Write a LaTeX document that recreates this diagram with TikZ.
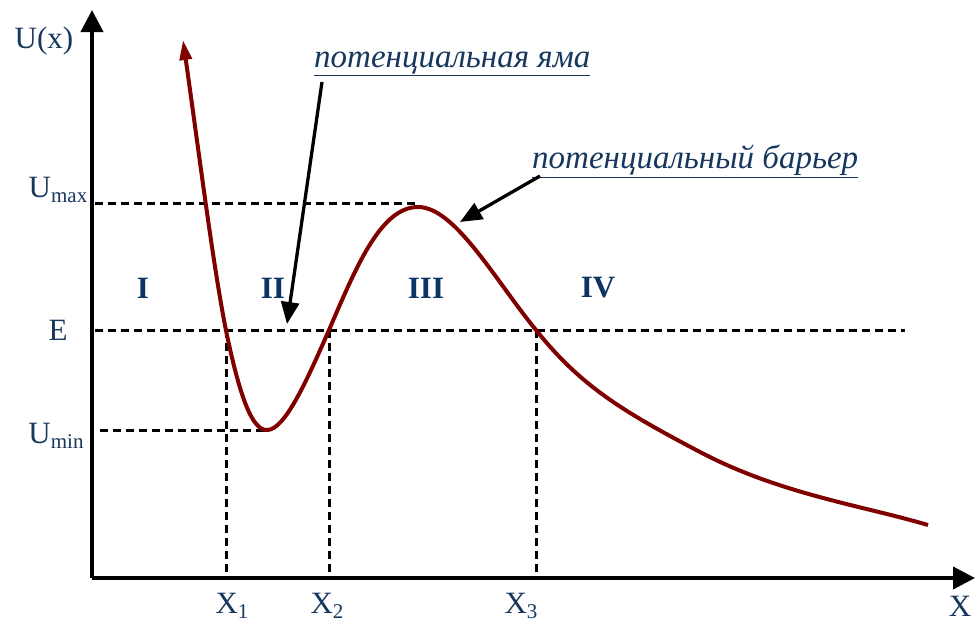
\documentclass[tikz,border=0pt]{standalone}
\usepackage{fontspec}
\setmainfont{Liberation Serif}
\usetikzlibrary{arrows.meta}
\definecolor{txtblue}{RGB}{23,55,94}
\definecolor{regblue}{RGB}{12,52,100}
\definecolor{curvered}{RGB}{128,0,0}
\tikzset{
  axis/.style={line width=4pt,-{Triangle[length=22pt,width=22pt]}},
  guide/.style={line width=3pt,dash pattern=on 8pt off 5pt},
  lbl/.style={text=txtblue,font=\fontsize{31}{33}\selectfont,inner sep=0pt},
  reg/.style={text=regblue,font=\fontsize{31}{33}\selectfont\bfseries,inner sep=0pt},
  note/.style={text=txtblue,font=\fontsize{33}{35}\selectfont\itshape,inner sep=1pt},
  pointer/.style={line width=3.3pt,-{Triangle[length=22pt,width=18pt]}},
}
\begin{document}
\begin{tikzpicture}[x=1pt,y=-1pt]
\useasboundingbox (0,0) rectangle (975,627);
% axes
\coordinate (O) at (92,578);
\coordinate (ytop) at (92,10);
\coordinate (xend) at (975,578);
\draw[axis] (O) -- (ytop);
\draw[axis] (O) -- (xend);
% guide lines
\coordinate (umaxL) at (95,203);
\coordinate (umaxR) at (416,203);
\coordinate (eL) at (95,330);
\coordinate (eR) at (905,330);
\coordinate (uminL) at (100,430);
\coordinate (uminR) at (268,430);
\draw[guide] (umaxL) -- (umaxR);
\draw[guide] (eL) -- (eR);
\draw[guide] (uminL) -- (uminR);
\coordinate (x1t) at (226,330); \coordinate (x1b) at (226,578);
\coordinate (x2t) at (329,330); \coordinate (x2b) at (329,578);
\coordinate (x3t) at (536,330); \coordinate (x3b) at (536,578);
\draw[guide] (x1t) -- (x1b);
\draw[guide] (x2t) -- (x2b);
\draw[guide] (x3t) -- (x3b);
% curve
\draw[curvered,line width=4pt,{Triangle[length=20pt,width=12pt]}-]
  (183,40) .. controls (200,160) and (215,280) .. (228,340)
  .. controls (240,395) and (252,432) .. (268,430)
  .. controls (285,428) and (305,385) .. (329,330)
  .. controls (355,270) and (380,207) .. (418,207)
  .. controls (455,207) and (495,280) .. (536,330)
  .. controls (580,385) and (620,410) .. (700,452)
  .. controls (780,494) and (860,505) .. (928,525);
% axis labels
\node[lbl] (ux) at (44,41) {U(x)};
\node[lbl] (umax) at (58,190) {U\raisebox{-0.35ex}{\fontsize{21}{23}\selectfont max}};
\node[lbl] (elbl) at (58,330) {E};
\node[lbl] (umin) at (56,436) {U\raisebox{-0.35ex}{\fontsize{21}{23}\selectfont min}};
\node[lbl] (x1) at (232,606) {X\raisebox{-0.35ex}{\fontsize{21}{23}\selectfont 1}};
\node[lbl] (x2) at (327,606) {X\raisebox{-0.35ex}{\fontsize{21}{23}\selectfont 2}};
\node[lbl] (x3) at (521,606) {X\raisebox{-0.35ex}{\fontsize{21}{23}\selectfont 3}};
\node[lbl] (xlbl) at (960,606) {X};
% regions
\node[reg] (r1) at (143,288) {I};
\node[reg] (r2) at (273,288) {II};
\node[reg] (r3) at (426,288) {III};
\node[reg] (r4) at (598,288) {IV};
% notes
\node[note,anchor=south west] (yama) at (313,77) {\underline{потенциальная яма}};
\node[note,anchor=south west] (bar) at (531,179) {\underline{потенциальный барьер}};
\coordinate (yamaTip) at (287,324);
\coordinate (barTip) at (460,222);
\draw[pointer] (yama.south west) ++(9,5) -- (yamaTip);
\draw[pointer] (bar.south west) ++(9,-3) -- (barTip);
\end{tikzpicture}
\end{document}
